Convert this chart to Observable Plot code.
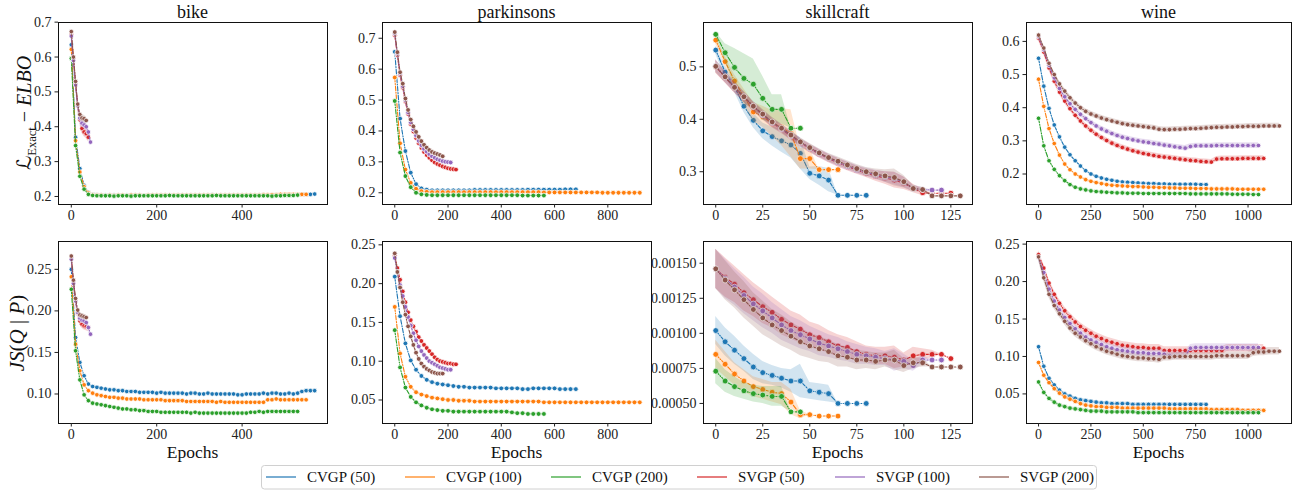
<!DOCTYPE html>
<html>
<head>
<meta charset="utf-8">
<script src="https://cdn.jsdelivr.net/npm/d3@7"></script>
<script src="https://cdn.jsdelivr.net/npm/@observablehq/plot@0.6"></script>
<style>
  body { margin: 0; background: #fff; }
  #root { position: relative; width: 1292px; height: 490px; overflow: hidden; background: #fff;
          font-family: "Liberation Serif", "DejaVu Serif", serif; }
  #root svg { position: absolute; }
</style>
</head>
<body>
<div id="root"></div>
<script>
// ---------- categories ----------
const methods = ["CVGP (50)", "CVGP (100)", "CVGP (200)", "SVGP (50)", "SVGP (100)", "SVGP (200)"];
const colors = ["#1f77b4", "#ff7f0e", "#2ca02c", "#d62728", "#9467bd", "#8c564b"];
const datasets = ["bike", "parkinsons", "skillcraft", "wine"];

// epoch interval between logged values, per series (same order as methods)
const stepBike = [10, 10, 10, 5, 5, 5];
const stepParkinsons = [20, 20, 20, 10, 10, 10];
const stepSkillcraft = [5, 5, 5, 5, 5, 5];
const stepWine = [25, 25, 25, 25, 25, 25];

// ---------- tick labels ----------
const xTicksBike = [0, 200, 400];
const xTicksParkinsons = [0, 200, 400, 600, 800];
const xTicksSkillcraft = [0, 25, 50, 75, 100, 125];
const xTicksWine = [0, 250, 500, 750, 1000];
const yTicksElboBike = [0.2, 0.3, 0.4, 0.5, 0.6, 0.7];
const yTicksElboParkinsons = [0.2, 0.3, 0.4, 0.5, 0.6, 0.7];
const yTicksElboSkillcraft = [0.3, 0.4, 0.5];
const yTicksElboWine = [0.2, 0.3, 0.4, 0.5, 0.6];
const yTicksJsBike = [0.10, 0.15, 0.20, 0.25];
const yTicksJsParkinsons = [0.05, 0.10, 0.15, 0.20, 0.25];
const yTicksJsSkillcraft = [0.0005, 0.00075, 0.001, 0.00125, 0.0015];
const yTicksJsWine = [0.05, 0.10, 0.15, 0.20, 0.25];

// ---------- L_Exact - ELBO values ----------
const elboBike = [
  [0.635,0.370,0.280,0.232,0.212,0.206,0.205,0.204,0.204,0.204, 0.204,0.204,0.203,0.204,0.204,0.204,0.204,0.203,0.204,0.204, 0.204,0.204,0.204,0.204,0.203,0.204,0.204,0.204,0.204,0.204, 0.204,0.204,0.204,0.205,0.204,0.204,0.204,0.204,0.204,0.204, 0.204,0.204,0.204,0.204,0.204,0.205,0.204,0.204,0.205,0.205, 0.205,0.205,0.205,0.206,0.206,0.206,0.206,0.207],
  [0.622,0.360,0.270,0.228,0.210,0.205,0.204,0.204,0.203,0.204, 0.203,0.204,0.204,0.203,0.204,0.204,0.204,0.203,0.204,0.204, 0.204,0.204,0.204,0.204,0.204,0.204,0.204,0.204,0.204,0.204, 0.204,0.204,0.204,0.204,0.204,0.204,0.204,0.204,0.204,0.204, 0.204,0.204,0.204,0.204,0.204,0.205,0.205,0.205,0.205,0.206, 0.206,0.206,0.206,0.206,0.206,0.206],
  [0.596,0.346,0.258,0.221,0.206,0.203,0.202,0.202,0.202,0.202, 0.201,0.202,0.202,0.202,0.201,0.202,0.202,0.202,0.202,0.202, 0.202,0.202,0.202,0.203,0.202,0.202,0.202,0.202,0.202,0.202, 0.202,0.202,0.202,0.202,0.203,0.202,0.202,0.202,0.202,0.202, 0.202,0.202,0.202,0.202,0.202,0.202,0.202,0.201,0.202,0.202, 0.203,0.203,0.203,0.204],
  [0.665,0.595,0.525,0.460,0.420,0.395,0.385,0.380,0.370],
  [0.660,0.590,0.520,0.460,0.425,0.410,0.405,0.400,0.385,0.356],
  [0.673,0.600,0.530,0.465,0.435,0.425,0.423,0.418]
];
const elboBikeSd = [0.002, 0.002, 0.002, 0.014, 0.012, 0.010];

const elboParkinsons = [
  [0.656,0.440,0.335,0.265,0.228,0.214,0.210,0.208,0.208,0.208, 0.208,0.208,0.208,0.208,0.208,0.209,0.209,0.209,0.209,0.209, 0.209,0.209,0.209,0.209,0.209,0.210,0.210,0.210,0.210,0.210, 0.210,0.210,0.211,0.211,0.211],
  [0.573,0.360,0.275,0.232,0.213,0.205,0.203,0.202,0.202,0.202, 0.202,0.202,0.202,0.202,0.202,0.202,0.202,0.202,0.202,0.202, 0.202,0.202,0.202,0.202,0.202,0.202,0.202,0.202,0.201,0.201, 0.201,0.201,0.201,0.201,0.201,0.201,0.201,0.201,0.201,0.200, 0.200,0.200,0.200,0.200,0.200,0.200,0.200],
  [0.497,0.330,0.254,0.218,0.200,0.195,0.193,0.192,0.192,0.192, 0.192,0.192,0.192,0.192,0.192,0.192,0.192,0.192,0.192,0.192, 0.192,0.192,0.192,0.192,0.191,0.191,0.191,0.191,0.191],
  [0.710,0.645,0.580,0.540,0.495,0.455,0.422,0.398,0.377,0.360, 0.345,0.332,0.322,0.313,0.305,0.298,0.293,0.289,0.285,0.282, 0.279,0.277,0.276,0.275],
  [0.715,0.650,0.585,0.545,0.500,0.460,0.428,0.405,0.385,0.368, 0.354,0.342,0.333,0.325,0.318,0.313,0.308,0.305,0.302,0.300, 0.299,0.298],
  [0.720,0.655,0.590,0.553,0.505,0.468,0.437,0.415,0.397,0.381, 0.367,0.355,0.346,0.338,0.332,0.328,0.325,0.322,0.318]
];
const elboParkinsonsSd = [0.002, 0.002, 0.002, 0.005, 0.005, 0.005];

const elboSkillcraft = [
  [0.532,0.490,0.462,0.425,0.398,0.378,0.367,0.359,0.351,0.335,0.297,0.292,0.284,0.255,0.255,0.255,0.255],
  [0.551,0.510,0.473,0.443,0.414,0.405,0.392,0.385,0.373,0.325,0.325,0.304,0.304,0.304],
  [0.562,0.527,0.499,0.478,0.467,0.440,0.419,0.419,0.383,0.383],
  [0.500,0.480,0.460,0.442,0.424,0.408,0.393,0.381,0.368,0.355,0.344,0.334,0.325,0.317,0.310,0.303,0.297,0.292,0.288,0.284,0.278,0.268,0.260,0.259,0.259,0.259],
  [0.502,0.481,0.461,0.443,0.425,0.409,0.394,0.382,0.369,0.356,0.345,0.335,0.326,0.318,0.311,0.304,0.299,0.294,0.290,0.287,0.280,0.268,0.266,0.265,0.265],
  [0.501,0.481,0.461,0.443,0.425,0.410,0.395,0.383,0.370,0.357,0.346,0.336,0.327,0.320,0.313,0.306,0.300,0.296,0.292,0.289,0.281,0.268,0.266,0.254,0.254,0.254,0.254]
];
const elboSkillcraftSd = [
  [0.008,0.010,0.010,0.012,0.014,0.015,0.018,0.022,0.025,0.030,0.012,0.018,0.022,0,0,0,0],
  [0.008,0.010,0.012,0.015,0.018,0.020,0.025,0.035,0.045,0.020,0.020,0,0,0],
  [0.005,0.017,0.036,0.047,0.048,0.042,0.028,0.028,0,0],
  [0.012,0.011,0.010,0.010,0.009,0.009,0.009,0.008,0.008,0.008,0.008,0.008,0.008,0.008,0.008,0.008,0.008,0.010,0.012,0.015,0.012,0.008,0.006,0,0,0],
  [0.012,0.011,0.010,0.010,0.009,0.009,0.009,0.008,0.008,0.008,0.008,0.008,0.008,0.008,0.008,0.008,0.008,0.009,0.010,0.012,0.010,0.006,0.004,0,0],
  [0.012,0.011,0.010,0.010,0.009,0.009,0.009,0.008,0.008,0.008,0.008,0.008,0.008,0.008,0.008,0.008,0.008,0.009,0.012,0.016,0.012,0.006,0.004,0,0,0,0]
];

const elboWine = [
  [0.549,0.465,0.398,0.348,0.312,0.281,0.258,0.240,0.224,0.210, 0.200,0.193,0.188,0.184,0.181,0.178,0.176,0.175,0.174,0.173, 0.172,0.171,0.171,0.170,0.170,0.169,0.169,0.169,0.169,0.169, 0.169,0.168,0.168],
  [0.486,0.404,0.337,0.292,0.257,0.230,0.213,0.200,0.191,0.183, 0.178,0.174,0.171,0.168,0.166,0.165,0.164,0.163,0.162,0.162, 0.161,0.160,0.160,0.159,0.159,0.158,0.158,0.157,0.157,0.157, 0.156,0.156,0.156,0.155,0.155,0.155,0.155,0.155,0.154,0.154, 0.154,0.154,0.154,0.154],
  [0.368,0.285,0.240,0.214,0.195,0.180,0.168,0.160,0.155,0.152, 0.149,0.147,0.146,0.145,0.144,0.143,0.143,0.142,0.142,0.142, 0.141,0.141,0.141,0.141,0.141,0.141,0.141,0.141,0.141,0.140, 0.140,0.140,0.140,0.140,0.140,0.140,0.140,0.139,0.139,0.139, 0.139,0.138,0.138],
  [0.610,0.568,0.520,0.480,0.447,0.420,0.397,0.377,0.360,0.345, 0.332,0.320,0.310,0.301,0.293,0.286,0.280,0.275,0.270,0.266, 0.262,0.259,0.256,0.253,0.251,0.249,0.247,0.245,0.243,0.241, 0.240,0.238,0.237,0.236,0.245,0.246,0.246,0.246,0.246,0.247, 0.247,0.247,0.247,0.247],
  [0.615,0.575,0.528,0.490,0.458,0.433,0.412,0.395,0.380,0.367, 0.355,0.345,0.336,0.329,0.322,0.316,0.311,0.307,0.303,0.300, 0.297,0.295,0.292,0.290,0.287,0.285,0.282,0.280,0.278,0.283, 0.285,0.285,0.285,0.285,0.286,0.286,0.286,0.286,0.286,0.286, 0.286,0.286,0.286],
  [0.619,0.580,0.534,0.500,0.472,0.450,0.430,0.414,0.400,0.389, 0.381,0.375,0.369,0.364,0.360,0.356,0.352,0.349,0.347,0.345, 0.343,0.341,0.339,0.335,0.334,0.334,0.335,0.335,0.336,0.337, 0.337,0.338,0.339,0.340,0.341,0.341,0.342,0.342,0.343,0.343, 0.344,0.344,0.344,0.345,0.345,0.345,0.345]
];
const elboWineSd = [0.003, 0.003, 0.003, 0.008, 0.008, 0.008];

// ---------- JS(Q | P) values ----------
const jsBike = [
  [0.250,0.168,0.138,0.122,0.112,0.109,0.108,0.107,0.106,0.105, 0.105,0.104,0.104,0.103,0.103,0.103,0.102,0.102,0.102,0.102, 0.101,0.102,0.101,0.101,0.101,0.101,0.101,0.100,0.101,0.101, 0.100,0.100,0.101,0.100,0.100,0.100,0.100,0.100,0.100,0.099, 0.099,0.100,0.100,0.100,0.100,0.101,0.100,0.101,0.101,0.100, 0.100,0.101,0.100,0.101,0.103,0.104,0.104,0.104],
  [0.241,0.160,0.128,0.111,0.104,0.101,0.099,0.098,0.097,0.096, 0.096,0.095,0.095,0.094,0.094,0.094,0.094,0.093,0.093,0.093, 0.093,0.093,0.092,0.092,0.092,0.092,0.092,0.091,0.091,0.091, 0.091,0.091,0.091,0.091,0.090,0.091,0.090,0.090,0.090,0.090, 0.090,0.090,0.090,0.090,0.090,0.090,0.093,0.093,0.094,0.093, 0.093,0.093,0.093,0.093,0.093,0.093],
  [0.226,0.152,0.117,0.099,0.092,0.089,0.088,0.087,0.086,0.085, 0.084,0.083,0.082,0.082,0.081,0.081,0.080,0.080,0.079,0.079, 0.079,0.078,0.078,0.078,0.078,0.078,0.078,0.078,0.077,0.078, 0.077,0.077,0.077,0.077,0.077,0.077,0.077,0.077,0.077,0.077, 0.077,0.077,0.078,0.078,0.079,0.078,0.079,0.079,0.079,0.079, 0.079,0.079,0.079,0.079],
  [0.264,0.234,0.212,0.197,0.188,0.184,0.182,0.181,0.180],
  [0.262,0.233,0.212,0.198,0.191,0.189,0.188,0.186,0.180,0.172],
  [0.266,0.237,0.215,0.201,0.195,0.194,0.193,0.192]
];
const jsBikeSd = [0.001, 0.001, 0.001, 0.005, 0.004, 0.003];

const jsParkinsons = [
  [0.209,0.158,0.123,0.101,0.089,0.081,0.076,0.073,0.071,0.070, 0.069,0.068,0.067,0.067,0.066,0.066,0.066,0.066,0.066,0.065, 0.065,0.065,0.065,0.065,0.064,0.064,0.065,0.065,0.065,0.065, 0.065,0.064,0.064,0.064,0.064],
  [0.170,0.110,0.080,0.067,0.060,0.057,0.055,0.053,0.052,0.051, 0.050,0.050,0.049,0.049,0.049,0.048,0.048,0.048,0.048,0.048, 0.048,0.048,0.048,0.048,0.048,0.048,0.048,0.048,0.047,0.047, 0.047,0.047,0.047,0.047,0.047,0.047,0.047,0.047,0.047,0.047, 0.047,0.047,0.047,0.047,0.047,0.047,0.047],
  [0.140,0.092,0.066,0.054,0.047,0.043,0.040,0.038,0.037,0.036, 0.036,0.035,0.035,0.035,0.035,0.035,0.035,0.035,0.035,0.035, 0.035,0.035,0.034,0.033,0.033,0.032,0.032,0.032,0.032],
  [0.236,0.220,0.205,0.190,0.176,0.163,0.153,0.145,0.138,0.131, 0.126,0.121,0.117,0.113,0.109,0.105,0.102,0.100,0.099,0.098, 0.097,0.097,0.096,0.096],
  [0.233,0.215,0.198,0.184,0.170,0.157,0.146,0.136,0.127,0.119, 0.113,0.108,0.104,0.100,0.098,0.096,0.094,0.092,0.091,0.090, 0.089,0.089],
  [0.239,0.215,0.195,0.176,0.160,0.145,0.132,0.121,0.111,0.103, 0.097,0.093,0.090,0.088,0.086,0.085,0.084,0.084,0.084]
];
const jsParkinsonsSd = [0.001, 0.001, 0.001, 0.002, 0.002, 0.002];

const jsSkillcraft = [
  [0.00102,0.00094,0.00088,0.00082,0.00076,0.00072,0.00070,0.00068,0.00066,0.00066,0.00059,0.00058,0.00057,0.00050,0.00050,0.00050,0.00050],
  [0.00085,0.00078,0.00071,0.00066,0.00062,0.00060,0.00058,0.00057,0.00051,0.00042,0.00042,0.00041,0.00041,0.00041],
  [0.00073,0.00066,0.00062,0.00059,0.00057,0.00056,0.00055,0.00055,0.00044,0.00044],
  [0.00146,0.00140,0.00135,0.00129,0.00124,0.00119,0.00115,0.00110,0.00106,0.00103,0.00099,0.00097,0.00094,0.00091,0.00090,0.00087,0.00085,0.00084,0.00084,0.00083,0.00081,0.00084,0.00085,0.00085,0.00085,0.00082],
  [0.00146,0.00139,0.00133,0.00127,0.00121,0.00116,0.00111,0.00106,0.00102,0.00099,0.00096,0.00093,0.00091,0.00089,0.00087,0.00085,0.00084,0.00083,0.00082,0.00081,0.00080,0.00077,0.00081,0.00081,0.00081],
  [0.00146,0.00138,0.00131,0.00124,0.00117,0.00111,0.00106,0.00102,0.00098,0.00094,0.00091,0.00089,0.00087,0.00084,0.00083,0.00081,0.00081,0.00080,0.00081,0.00081,0.00077,0.00079,0.00079,0.00076,0.00076,0.00076,0.00076]
];
const jsSkillcraftSd = [
  [0.00010,0.00010,0.00010,0.00009,0.00009,0.00008,0.00007,0.00007,0.00008,0.00012,0.00006,0.00006,0.00006,0,0,0,0],
  [0.00010,0.00009,0.00008,0.00008,0.00007,0.00007,0.00007,0.00008,0.00009,0.00003,0,0,0,0],
  [0.00009,0.00008,0.00007,0.00006,0.00006,0.00006,0.00007,0.00007,0,0],
  [0.00014,0.00014,0.00013,0.00013,0.00012,0.00012,0.00011,0.00011,0.00010,0.00010,0.00009,0.00009,0.00008,0.00008,0.00007,0.00007,0.00006,0.00006,0.00006,0.00008,0.00005,0.00006,0.00004,0.00003,0,0],
  [0.00014,0.00014,0.00013,0.00013,0.00012,0.00012,0.00011,0.00011,0.00010,0.00010,0.00009,0.00009,0.00008,0.00008,0.00007,0.00007,0.00006,0.00006,0.00005,0.00008,0.00005,0.00004,0.00003,0,0],
  [0.00014,0.00014,0.00013,0.00013,0.00012,0.00012,0.00011,0.00011,0.00010,0.00010,0.00009,0.00009,0.00008,0.00008,0.00007,0.00007,0.00006,0.00006,0.00005,0.00007,0.00005,0.00004,0.00003,0,0,0,0]
];

const jsWine = [
  [0.113,0.087,0.071,0.062,0.055,0.050,0.047,0.044,0.042,0.041, 0.040,0.039,0.038,0.038,0.037,0.037,0.037,0.037,0.036,0.036, 0.036,0.036,0.036,0.036,0.036,0.036,0.036,0.036,0.036,0.036, 0.036,0.036,0.036],
  [0.092,0.075,0.065,0.057,0.051,0.046,0.043,0.040,0.037,0.035, 0.034,0.033,0.033,0.032,0.032,0.032,0.031,0.031,0.031,0.031, 0.031,0.031,0.031,0.031,0.031,0.030,0.030,0.030,0.030,0.030, 0.030,0.030,0.030,0.029,0.029,0.029,0.029,0.029,0.029,0.028, 0.028,0.028,0.028,0.028],
  [0.066,0.052,0.044,0.039,0.035,0.033,0.031,0.030,0.029,0.028, 0.027,0.027,0.027,0.026,0.026,0.026,0.026,0.026,0.026,0.025, 0.025,0.025,0.025,0.025,0.025,0.025,0.025,0.025,0.025,0.025, 0.025,0.025,0.025,0.025,0.025,0.025,0.025,0.025,0.025,0.025, 0.025,0.025,0.025],
  [0.236,0.218,0.198,0.183,0.171,0.161,0.153,0.146,0.140,0.135, 0.131,0.127,0.124,0.121,0.119,0.117,0.115,0.114,0.113,0.112, 0.112,0.111,0.111,0.111,0.108,0.108,0.108,0.108,0.108,0.108, 0.108,0.108,0.108,0.108,0.108,0.108,0.111,0.111,0.111,0.111, 0.111,0.111,0.111,0.111],
  [0.232,0.212,0.190,0.174,0.162,0.152,0.144,0.137,0.131,0.126, 0.122,0.119,0.116,0.113,0.111,0.109,0.108,0.107,0.106,0.105, 0.105,0.104,0.104,0.104,0.103,0.101,0.101,0.101,0.101,0.111, 0.112,0.112,0.112,0.112,0.112,0.112,0.112,0.112,0.112,0.112, 0.112,0.112,0.112],
  [0.233,0.205,0.183,0.168,0.157,0.147,0.138,0.131,0.126,0.121, 0.117,0.113,0.110,0.107,0.105,0.103,0.101,0.100,0.099,0.098, 0.098,0.097,0.097,0.096,0.099,0.099,0.100,0.100,0.100,0.100, 0.100,0.100,0.100,0.100,0.101,0.101,0.101,0.101,0.101,0.101, 0.101,0.105,0.106,0.106,0.107,0.107,0.107]
];
const jsWineSd = [0.002, 0.002, 0.002, 0.005, 0.005, 0.005];

// ---------- build table rows ----------
function buildRows(series, steps, sds) {
  const out = [];
  series.forEach((vals, i) => {
    vals.forEach((v, k) => {
      const s = Array.isArray(sds[i]) ? (sds[i][k] ?? 0) : sds[i];
      out.push({method: methods[i], idx: i, epoch: k * steps[i], value: v, lo: v - s, hi: v + s});
    });
  });
  return out;
}

// ---------- layout ----------
const frameLeft = [58, 382, 703, 1026];
const frameWidth = [269, 269, 269, 265];
const frameTop = [22, 241];
const frameHeight = [182, 182];

const panels = [
  {row: 0, col: 0, series: elboBike, steps: stepBike, sd: elboBikeSd, xDomain: [-30, 600], yDomain: [0.177, 0.699], xTicks: xTicksBike, yTicks: yTicksElboBike, yFmt: ".1f", r: 2.3},
  {row: 0, col: 1, series: elboParkinsons, steps: stepParkinsons, sd: elboParkinsonsSd, xDomain: [-46, 964], yDomain: [0.162, 0.751], xTicks: xTicksParkinsons, yTicks: yTicksElboParkinsons, yFmt: ".1f", r: 2.4},
  {row: 0, col: 2, series: elboSkillcraft, steps: stepSkillcraft, sd: elboSkillcraftSd, xDomain: [-6.5, 136.5], yDomain: [0.2375, 0.5846], xTicks: xTicksSkillcraft, yTicks: yTicksElboSkillcraft, yFmt: ".1f", r: 2.9},
  {row: 0, col: 3, series: elboWine, steps: stepWine, sd: elboWineSd, xDomain: [-57.5, 1207.5], yDomain: [0.108, 0.657], xTicks: xTicksWine, yTicks: yTicksElboWine, yFmt: ".1f", r: 2.3},
  {row: 1, col: 0, series: jsBike, steps: stepBike, sd: jsBikeSd, xDomain: [-30, 600], yDomain: [0.0645, 0.2835], xTicks: xTicksBike, yTicks: yTicksJsBike, yFmt: ".2f", r: 2.3},
  {row: 1, col: 1, series: jsParkinsons, steps: stepParkinsons, sd: jsParkinsonsSd, xDomain: [-46, 964], yDomain: [0.0197, 0.2543], xTicks: xTicksParkinsons, yTicks: yTicksJsParkinsons, yFmt: ".2f", r: 2.4},
  {row: 1, col: 2, series: jsSkillcraft, steps: stepSkillcraft, sd: jsSkillcraftSd, xDomain: [-6.5, 136.5], yDomain: [0.000357, 0.001655], xTicks: xTicksSkillcraft, yTicks: yTicksJsSkillcraft, yFmt: ".5f", r: 2.9},
  {row: 1, col: 3, series: jsWine, steps: stepWine, sd: jsWineSd, xDomain: [-57.5, 1207.5], yDomain: [0.0105, 0.2535], xTicks: xTicksWine, yTicks: yTicksJsWine, yFmt: ".2f", r: 2.3}
];

const root = document.getElementById("root");
const mL = 60, mR = 4, mT = 4, mB = 24;
const fontStack = "'Liberation Serif', 'DejaVu Serif', serif";

panels.forEach(p => {
  const fw = frameWidth[p.col], fh = frameHeight[p.row];
  const data = buildRows(p.series, p.steps, p.sd);
  const marks = [];
  methods.forEach((m, i) => {
    const d = data.filter(r => r.idx === i);
    if (!d.length) return;
    marks.push(Plot.line(d, {x: "epoch", y: "value", stroke: colors[i], strokeWidth: 1.1, strokeDasharray: "4.5,1.6,1,1.6"}));
    marks.push(Plot.dot(d, {x: "epoch", y: "value", fill: colors[i], stroke: "white", strokeWidth: 0.8, r: p.r}));
    marks.push(Plot.areaY(d, {x: "epoch", y1: "lo", y2: "hi", fill: colors[i], fillOpacity: 0.2}));
  });
  marks.push(Plot.frame({stroke: "#111", strokeWidth: 1}));
  marks.push(Plot.axisX({ticks: p.xTicks, tickSize: 3.5, tickPadding: 2, tickFormat: d3.format("d"), label: null, stroke: "#222", fill: "#222", fontSize: 14, fontFamily: fontStack}));
  marks.push(Plot.axisY({ticks: p.yTicks, tickSize: 3.5, tickPadding: 3.5, tickFormat: d3.format(p.yFmt), label: null, stroke: "#222", fill: "#222", fontSize: 14, fontFamily: fontStack}));
  const svg = Plot.plot({
    width: mL + fw + mR,
    height: mT + fh + mB,
    marginLeft: mL, marginRight: mR, marginTop: mT, marginBottom: mB,
    x: {domain: p.xDomain},
    y: {domain: p.yDomain},
    style: {fontFamily: fontStack, fontSize: "14px", background: "transparent", overflow: "visible"},
    marks
  });
  svg.style.left = (frameLeft[p.col] - mL) + "px";
  svg.style.top = (frameTop[p.row] - mT) + "px";
  root.appendChild(svg);
});

// ---------- text overlay (titles, axis labels, legend) ----------
const ov = d3.select(root).append("svg")
  .attr("width", 1292).attr("height", 490)
  .style("left", "0px").style("top", "0px").style("pointer-events", "none")
  .attr("font-family", fontStack).attr("fill", "#111");

datasets.forEach((name, c) => {
  ov.append("text").attr("x", frameLeft[c] + frameWidth[c] / 2).attr("y", 18)
    .attr("text-anchor", "middle").attr("font-size", 18).text(name);
  ov.append("text").attr("x", frameLeft[c] + frameWidth[c] / 2).attr("y", 458)
    .attr("text-anchor", "middle").attr("font-size", 17.5).text("Epochs");
});

// y label row 1
const yl1 = ov.append("text").attr("transform", "translate(31,113) rotate(-90)")
  .attr("text-anchor", "middle").attr("font-size", 20);
yl1.append("tspan").attr("font-family", "'DejaVu Sans', sans-serif").attr("font-size", 20).text("ℒ");
yl1.append("tspan").attr("font-size", 12.5).attr("dy", 5).text("Exact");
yl1.append("tspan").attr("dy", -5).text(" − ");
yl1.append("tspan").attr("font-style", "italic").text("ELBO");

// y label row 2
const yl2 = ov.append("text").attr("transform", "translate(24,333) rotate(-90)")
  .attr("text-anchor", "middle").attr("font-size", 21);
yl2.append("tspan").attr("font-style", "italic").text("JS");
yl2.append("tspan").text("(");
yl2.append("tspan").attr("font-style", "italic").text("Q");
yl2.append("tspan").text(" | ");
yl2.append("tspan").attr("font-style", "italic").text("P");
yl2.append("tspan").text(")");

// legend
ov.append("rect").attr("x", 261.5).attr("y", 465.5).attr("width", 835).attr("height", 23.5)
  .attr("rx", 3).attr("fill", "white").attr("stroke", "#d0d0d0").attr("stroke-width", 1);
const legendX = [266, 405, 551, 697, 835, 979];
methods.forEach((m, i) => {
  ov.append("line").attr("x1", legendX[i]).attr("x2", legendX[i] + 30).attr("y1", 477).attr("y2", 477)
    .attr("stroke", colors[i]).attr("stroke-opacity", 0.6).attr("stroke-width", 2);
  ov.append("text").attr("x", legendX[i] + 41).attr("y", 482).attr("font-size", 15).text(m);
});
</script>
</body>
</html>
